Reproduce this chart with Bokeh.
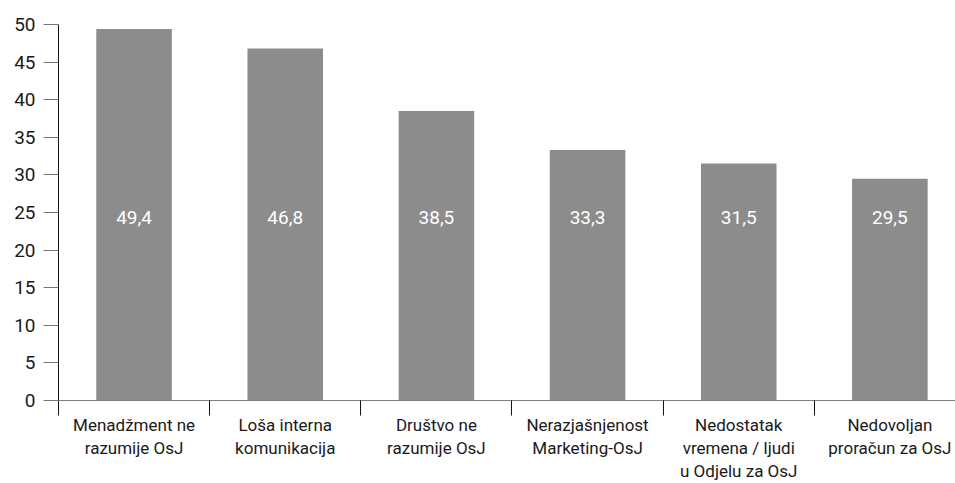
from bokeh.plotting import figure
from bokeh.models import Range1d, FixedTicker, ColumnDataSource
from bokeh.core.properties import value
from bokeh.embed import file_html
from bokeh.resources import INLINE

categories = [
    "Menadžment ne\nrazumije OsJ",
    "Loša interna\nkomunikacija",
    "Društvo ne\nrazumije OsJ",
    "Nerazjašnjenost\nMarketing-OsJ",
    "Nedostatak\nvremena / ljudi\nu Odjelu za OsJ",
    "Nedovoljan\nproračun za OsJ",
]
values = [49.4, 46.8, 38.5, 33.3, 31.5, 29.5]
value_labels = ["49,4", "46,8", "38,5", "33,3", "31,5", "29,5"]
y_ticks = [0, 5, 10, 15, 20, 25, 30, 35, 40, 45, 50]

n = len(categories)
centers = [i + 0.5 for i in range(n)]
source = ColumnDataSource(dict(x=centers, top=values, lab=value_labels,
                               ly=[24.3] * n))

FONT = "Roboto"

p = figure(width=955, height=483, output_backend="svg", toolbar_location=None,
           x_range=Range1d(0, 5.934), y_range=Range1d(0, 50),
           min_border_left=58, min_border_right=0, min_border_top=24,
           min_border_bottom=83)
p.outline_line_color = None
p.xgrid.visible = False
p.ygrid.visible = False
p.background_fill_color = "white"
p.border_fill_color = "white"

p.vbar(x="x", top="top", width=0.5, bottom=0, source=source,
       fill_color="#8c8c8c", line_color=None)
p.text(x="x", y="ly", text="lab", source=source, text_color="white",
       text_align="center", text_baseline="middle",
       text_font=value(FONT), text_font_size="19px")

# y axis
ya = p.yaxis[0]
ya.ticker = FixedTicker(ticks=y_ticks)
ya.axis_line_color = "#111111"
ya.major_tick_line_color = "#777777"
ya.major_tick_out = 15
ya.major_tick_in = 0
ya.minor_tick_line_color = None
ya.major_label_standoff = 8
ya.major_label_text_font = FONT
ya.major_label_text_font_size = "19px"
ya.major_label_text_color = "#1a1a1a"

# x axis
xa = p.xaxis[0]
xa.ticker = FixedTicker(ticks=centers, minor_ticks=list(range(n + 1)))
xa.major_label_overrides = {c: lab for c, lab in zip(centers, categories)}
xa.axis_line_color = "#808080"
xa.major_tick_line_color = None
xa.major_tick_out = 0
xa.major_tick_in = 0
xa.minor_tick_line_color = "#111111"
xa.minor_tick_out = 15
xa.minor_tick_in = 0
xa.major_label_standoff = -1
xa.major_label_text_font = FONT
xa.major_label_text_font_size = "17px"
xa.major_label_text_color = "#1a1a1a"
xa.major_label_text_line_height = 1.15

open("out.html", "w").write(file_html(p, INLINE))
